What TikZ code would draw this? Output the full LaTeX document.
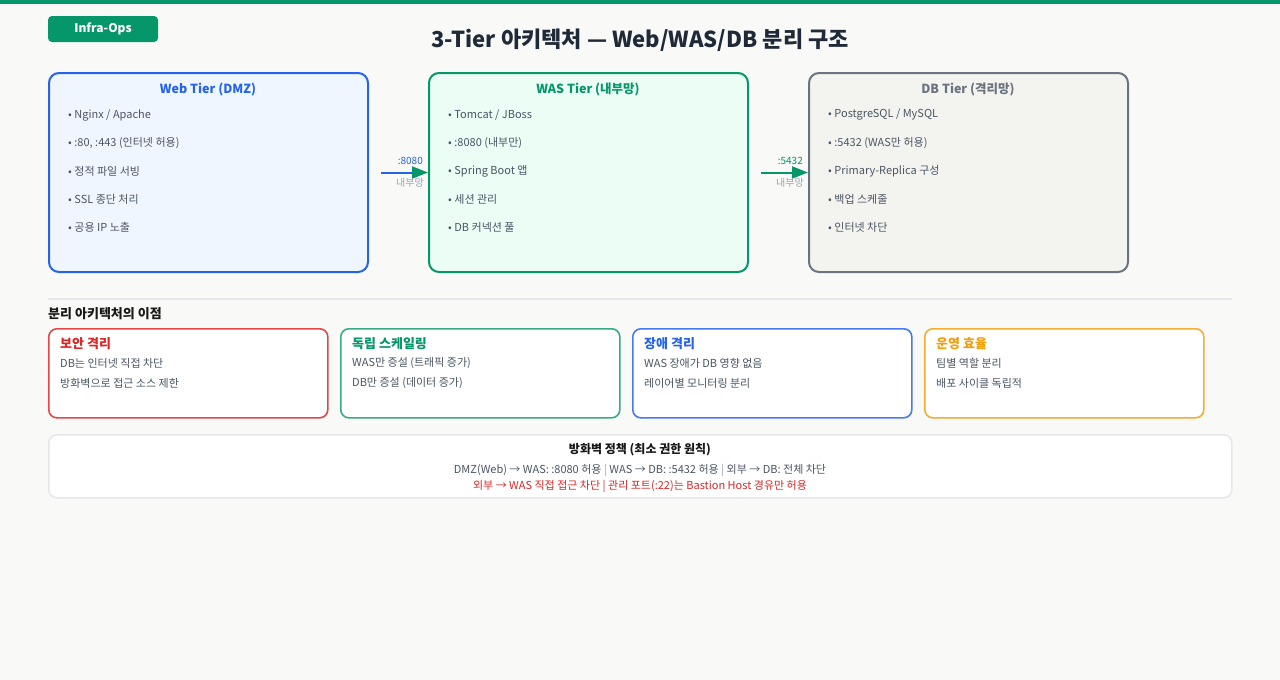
\documentclass[tikz,border=0pt]{standalone}
\usepackage{fontspec}
\setmainfont{Noto Sans CJK KR}
\usetikzlibrary{arrows.meta}
\definecolor{bgc}{HTML}{F9FAF7}
\definecolor{grn}{HTML}{059669}
\definecolor{blu}{HTML}{2563EB}
\definecolor{gry}{HTML}{6B7280}
\definecolor{red1}{HTML}{DC2626}
\definecolor{org}{HTML}{F59E0B}
\definecolor{txt}{HTML}{4B5563}
\definecolor{dark}{HTML}{1F2937}
\definecolor{line}{HTML}{E5E7EB}
\definecolor{webfill}{HTML}{EFF6FF}
\definecolor{wasfill}{HTML}{ECFDF5}
\definecolor{dbfill}{HTML}{F3F4EF}
\definecolor{lgray}{HTML}{9CA3AF}
\tikzset{
  tierbox/.style={draw, line width=2pt, rounded corners=10pt, minimum width=319pt, minimum height=199pt, anchor=north west, inner sep=0},
  tiertitle/.style={font=\bfseries\fontsize{12.5}{15}\selectfont, anchor=center, inner sep=0},
  bullet/.style={font=\fontsize{11}{13}\selectfont, text=txt, anchor=west, inner sep=0},
  card/.style={draw, line width=1.6pt, rounded corners=8pt, fill=white, minimum width=279pt, minimum height=89pt, anchor=north west, inner sep=0},
  cardtitle/.style={font=\bfseries\fontsize{13}{15}\selectfont, anchor=west, inner sep=0},
  cardtext/.style={font=\fontsize{11}{13}\selectfont, text=txt, anchor=west, inner sep=0},
  portlbl/.style={font=\fontsize{10}{12}\selectfont, anchor=east, inner sep=0},
  netlbl/.style={font=\fontsize{10}{12}\selectfont, text=lgray, anchor=east, inner sep=0},
  conn/.style={line width=2pt, -{Triangle[length=16pt,width=12pt,color=grn]}}
}
\begin{document}
\begin{tikzpicture}[x=1pt,y=-1pt]
\useasboundingbox (0,0) rectangle (1280,680);
\fill[bgc] (0,0) rectangle (1280,680);
\fill[grn] (0,0) rectangle (1280,4);
% badge
\node[fill=grn, rounded corners=4pt, minimum width=110pt, minimum height=26pt, inner sep=0, text=white, font=\bfseries\fontsize{12}{14}\selectfont] (badge) at (103,29) {Infra-Ops};
% title
\node[font=\bfseries\fontsize{22}{26}\selectfont, text=dark, inner sep=0] (title) at (640,40) {3-Tier 아키텍처 — Web/WAS/DB 분리 구조};
% tiers
\node[tierbox, draw=blu, fill=webfill] (web) at (48,72) {};
\node[tierbox, draw=grn, fill=wasfill] (was) at (428,72) {};
\node[tierbox, draw=gry, fill=dbfill] (db) at (808,72) {};
\node[tiertitle, text=blu] (webt) at (208,89.5) {Web Tier (DMZ)};
\node[tiertitle, text=grn] (wast) at (588,89.5) {WAS Tier (내부망)};
\node[tiertitle, text=gry] (dbt) at (968,89.5) {DB Tier (격리망)};
\node[bullet] (w1) at (68,115) {• Nginx / Apache};
\node[bullet] (w2) at (68,143) {• :80, :443 (인터넷 허용)};
\node[bullet] (w3) at (68,171) {• 정적 파일 서빙};
\node[bullet] (w4) at (68,199) {• SSL 종단 처리};
\node[bullet] (w5) at (68,227) {• 공용 IP 노출};
\node[bullet] (a1) at (448,115) {• Tomcat / JBoss};
\node[bullet] (a2) at (448,143) {• :8080 (내부만)};
\node[bullet] (a3) at (448,171) {• Spring Boot 앱};
\node[bullet] (a4) at (448,199) {• 세션 관리};
\node[bullet] (a5) at (448,227) {• DB 커넥션 풀};
\node[bullet] (d1) at (828,115) {• PostgreSQL / MySQL};
\node[bullet] (d2) at (828,143) {• :5432 (WAS만 허용)};
\node[bullet] (d3) at (828,171) {• Primary-Replica 구성};
\node[bullet] (d4) at (828,199) {• 백업 스케줄};
\node[bullet] (d5) at (828,227) {• 인터넷 차단};
% connectors
\draw[conn, draw=blu, shorten <=12pt] (web.east) -- (was.west);
\draw[conn, draw=grn, shorten <=12pt] (was.east) -- (db.west);
\node[portlbl, text=blu] (p1) at (423,161) {:8080};
\node[netlbl] (n1) at (424,183) {내부망};
\node[portlbl, text=grn] (p2) at (803,161) {:5432};
\node[netlbl] (n2) at (804,183) {내부망};
% separator
\draw[line, line width=2pt] (48,299) -- (1232,299);
\node[font=\bfseries\fontsize{13}{15}\selectfont, text=black!90, anchor=west, inner sep=0] (sec) at (48,313.5) {분리 아키텍처의 이점};
% cards
\node[card, draw=red1!85] (c1) at (48,328) {};
\node[card, draw=grn!80] (c2) at (340,328) {};
\node[card, draw=blu!85] (c3) at (632,328) {};
\node[card, draw=org!85] (c4) at (924,328) {};
\node[cardtitle, text=red1] (c1t) at (60,344) {보안 격리};
\node[cardtext] (c1a) at (60,363) {DB는 인터넷 직접 차단};
\node[cardtext] (c1b) at (60,383) {방화벽으로 접근 소스 제한};
\node[cardtitle, text=grn] (c2t) at (352,344) {독립 스케일링};
\node[cardtext] (c2a) at (352,363) {WAS만 증설 (트래픽 증가)};
\node[cardtext] (c2b) at (352,383) {DB만 증설 (데이터 증가)};
\node[cardtitle, text=blu] (c3t) at (644,344) {장애 격리};
\node[cardtext] (c3a) at (644,363) {WAS 장애가 DB 영향 없음};
\node[cardtext] (c3b) at (644,383) {레이어별 모니터링 분리};
\node[cardtitle, text=org] (c4t) at (936,344) {운영 효율};
\node[cardtext] (c4a) at (936,363) {팀별 역할 분리};
\node[cardtext] (c4b) at (936,383) {배포 사이클 독립적};
% firewall
\node[draw=line, line width=1.6pt, rounded corners=8pt, fill=white, minimum width=1183pt, minimum height=63pt, anchor=north west, inner sep=0] (fw) at (48,434) {};
\node[font=\bfseries\fontsize{12}{14}\selectfont, text=black!90, inner sep=0] (fwt) at (640,449.5) {방화벽 정책 (최소 권한 원칙)};
\node[font=\fontsize{11}{13}\selectfont, text=txt, inner sep=0] (fw1) at (640,470.5) {DMZ(Web) → WAS: :8080 허용 \textcolor{lgray}{|} WAS → DB: :5432 허용 \textcolor{lgray}{|} 외부 → DB: 전체 차단};
\node[font=\fontsize{11}{13}\selectfont, text=red1, inner sep=0] (fw2) at (640,486.5) {외부 → WAS 직접 접근 차단 | 관리 포트(:22)는 Bastion Host 경유만 허용};
\end{tikzpicture}
\end{document}
